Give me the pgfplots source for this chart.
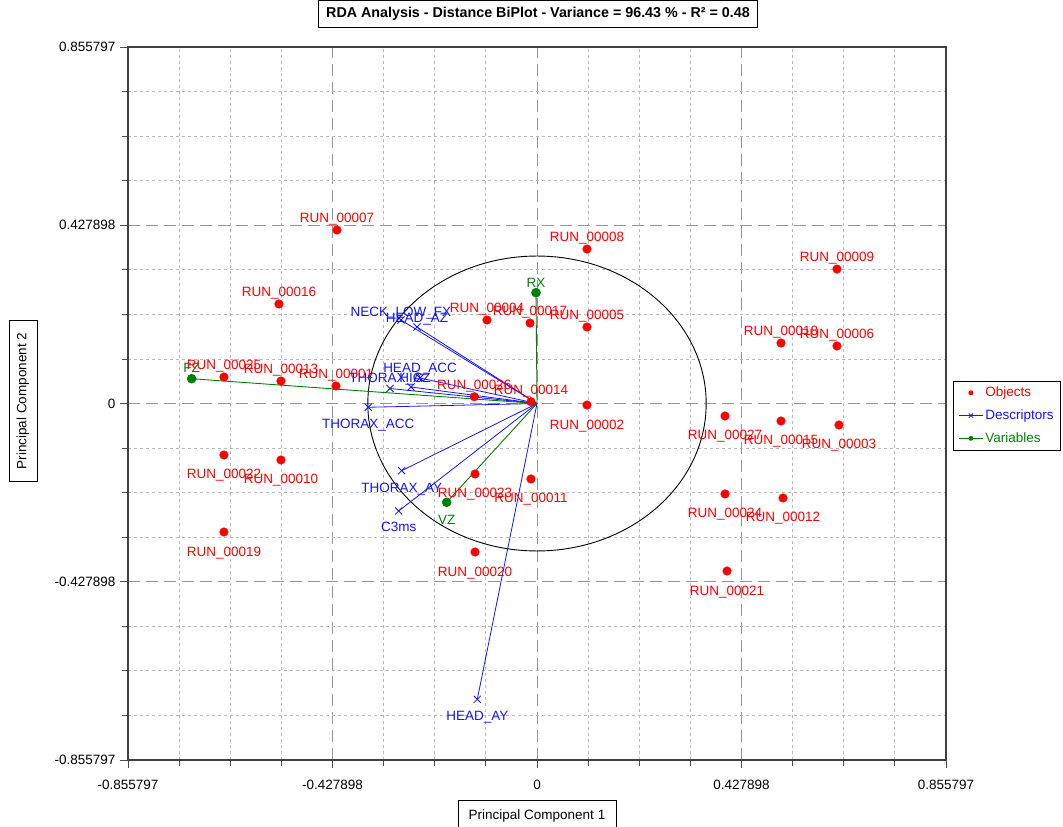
\documentclass[border=0pt]{standalone}
\usepackage{pgfplots}
\pgfplotsset{compat=1.18}
\usepackage{fontspec}
\setmainfont{Liberation Sans}
\definecolor{objred}{RGB}{255,0,0}
\definecolor{descblue}{RGB}{20,20,255}
\definecolor{vargreen}{RGB}{0,130,0}
\definecolor{majgrid}{RGB}{150,150,150}
\definecolor{mingrid}{RGB}{185,185,185}
\newcommand\lf{\fontsize{13.5}{16}\selectfont}
\begin{document}
\begin{tikzpicture}[x=1pt,y=1pt]
\useasboundingbox (0,0) rectangle (1063,827);
\begin{axis}[
  at={(128pt,67pt)}, anchor=south west, scale only axis,
  width=818pt, height=713pt,
  xmin=-0.855797, xmax=0.855797, ymin=-0.855797, ymax=0.855797,
  xtick={-0.855797,-0.427898,0,0.427898,0.855797},
  xticklabels={-0.855797,-0.427898,0,0.427898,0.855797},
  ytick={-0.855797,-0.427898,0,0.427898,0.855797},
  yticklabels={-0.855797,-0.427898,0,0.427898,0.855797},
  minor xtick={-0.748822,-0.641848,-0.534873,-0.320924,-0.213949,-0.106975,0.106975,0.213949,0.320924,0.534873,0.641848,0.748822},
  minor ytick={-0.748822,-0.641848,-0.534873,-0.320924,-0.213949,-0.106975,0.106975,0.213949,0.320924,0.534873,0.641848,0.748822},
  grid=both,
  major grid style={majgrid, dash pattern=on 12pt off 6pt, line width=0.9pt},
  minor grid style={mingrid, dash pattern=on 3pt off 3pt, line width=0.8pt},
  tick pos=left, tick align=outside,
  major tick length=8pt, minor tick length=6pt,
  tick style={black!70, line width=0.8pt},
  axis line style={black!75, line width=1.2pt},
  ticklabel style={font=\lf, text=black},
  xticklabel style={yshift=-9pt},
  yticklabel style={xshift=-1pt},
  title={RDA Analysis - Distance BiPlot - Variance = 96.43 \% - R² = 0.48},
  title style={draw=black, line width=0.9pt, font=\fontsize{14.3}{17}\selectfont\bfseries, at={(axis description cs:0.5012,1.0386)}, anchor=center, inner xsep=8pt, minimum height=27pt},
  xlabel={Principal Component 1},
  xlabel style={draw=black, line width=0.9pt, font=\lf, at={(axis description cs:0.5,-0.0561)}, anchor=north, minimum height=31pt, minimum width=158pt},
  ylabel={Principal Component 2},
  ylabel style={draw=black, line width=0.9pt, font=\lf, at={(axis description cs:-0.1284,0.5035)}, anchor=center, rotate=0, minimum height=28pt, minimum width=161pt},
  legend style={at={(axis description cs:1.0086,0.5320)}, anchor=north west, draw=black, line width=0.9pt, font=\lf, row sep=7.5pt, inner xsep=5pt, inner ysep=4pt},
  legend cell align=left,
  clip=false,
]
% Legend
\addlegendimage{only marks, mark=*, objred, mark size=2pt, legend image code/.code={\draw[mark repeat=2,mark phase=2] plot coordinates {(0pt,0pt) (12pt,0pt) (24pt,0pt)};}}
\addlegendentry{\textcolor{objred}{Objects}}
\addlegendimage{descblue, line width=0.8pt, mark=x, mark size=3pt, legend image code/.code={\draw[mark repeat=2,mark phase=2] plot coordinates {(0pt,0pt) (12pt,0pt) (24pt,0pt)};}}
\addlegendentry{\textcolor{descblue}{Descriptors}}
\addlegendimage{vargreen, line width=0.8pt, mark=*, mark size=2pt, legend image code/.code={\draw[mark repeat=2,mark phase=2] plot coordinates {(0pt,0pt) (12pt,0pt) (24pt,0pt)};}}
\addlegendentry{\textcolor{vargreen}{Variables}}

% Correlation circle
\draw[black, line width=0.9pt] (axis cs:0,0) ellipse [x radius=0.354, y radius=0.354];

% Objects, labels above
\addplot[forget plot, only marks, mark=*, objred, mark size=4.3pt,
  point meta=explicit symbolic, nodes near coords,
  every node near coord/.append style={anchor=base, yshift=7.5pt, text=objred, font=\lf, inner sep=0pt}]
coordinates {
(-0.4185,0.4165) [RUN\_00007]
(0.1046,0.3709) [RUN\_00008]
(0.6277,0.3228) [RUN\_00009]
(-0.5399,0.2389) [RUN\_00016]
(-0.1046,0.2004) [RUN\_00004]
(-0.0146,0.1932) [RUN\_00017]
(0.1046,0.1836) [RUN\_00005]
(0.5106,0.1452) [RUN\_00018]
(0.6277,0.1380) [RUN\_00006]
(-0.6550,0.0636) [RUN\_00025]
(-0.5357,0.0540) [RUN\_00013]
(-0.4206,0.0420) [RUN\_00001]
(-0.1312,0.0163) [RUN\_00026]
(-0.0126,0.0043) [RUN\_00014]
};
% Objects, labels below
\addplot[forget plot, only marks, mark=*, objred, mark size=4.3pt,
  point meta=explicit symbolic, nodes near coords,
  every node near coord/.append style={anchor=base, yshift=-24pt, text=objred, font=\lf, inner sep=0pt}]
coordinates {
(0.1046,-0.0036) [RUN\_00002]
(0.3934,-0.0300) [RUN\_00027]
(0.5106,-0.0420) [RUN\_00015]
(0.6319,-0.0516) [RUN\_00003]
(-0.6550,-0.1236) [RUN\_00022]
(-0.5357,-0.1356) [RUN\_00010]
(-0.1297,-0.1692) [RUN\_00023]
(-0.0126,-0.1812) [RUN\_00011]
(0.3934,-0.2172) [RUN\_00024]
(0.5148,-0.2268) [RUN\_00012]
(-0.6550,-0.3085) [RUN\_00019]
(-0.1297,-0.3565) [RUN\_00020]
(0.3976,-0.4021) [RUN\_00021]
};

% Descriptors
\pgfplotsset{descr/.style={forget plot, descblue, line width=0.8pt, mark=x, mark indices={2}, mark size=5pt, mark options={line width=0.8pt}}}
\addplot[descr] coordinates {(0,0) (-0.2846,0.2004)} node[pos=1, anchor=base, yshift=3.5pt, text=descblue, font=\lf, inner sep=0pt]{NECK\_LOW\_FX};
\addplot[descr] coordinates {(0,0) (-0.2511,0.1836)} node[pos=1, anchor=base, yshift=4.5pt, text=descblue, font=\lf, inner sep=0pt]{HEAD\_AZ};
\addplot[descr] coordinates {(0,0) (-0.2448,0.0612)} node[pos=1, anchor=base, yshift=6pt, text=descblue, font=\lf, inner sep=0pt]{HEAD\_ACC};
\addplot[descr] coordinates {(0,0) (-0.2637,0.0396)} node[pos=1, anchor=base, yshift=5pt, text=descblue, font=\lf, inner sep=0pt]{HIC};
\addplot[descr] coordinates {(0,0) (-0.3076,0.0360)} node[pos=1, anchor=base, yshift=6pt, text=descblue, font=\lf, inner sep=0pt]{THORAX\_AZ};
\addplot[descr] coordinates {(0,0) (-0.3530,-0.0090)} node[pos=1, anchor=base, yshift=-21pt, text=descblue, font=\lf, inner sep=0pt]{THORAX\_ACC};
\addplot[descr] coordinates {(0,0) (-0.2831,-0.1613)} node[pos=1, anchor=base, yshift=-22pt, text=descblue, font=\lf, inner sep=0pt]{THORAX\_AY};
\addplot[descr] coordinates {(0,0) (-0.2894,-0.2580)} node[pos=1, anchor=base, yshift=-21pt, text=descblue, font=\lf, inner sep=0pt]{C3ms};
\addplot[descr] coordinates {(0,0) (-0.1249,-0.7101)} node[pos=1, anchor=base, yshift=-21.5pt, text=descblue, font=\lf, inner sep=0pt]{HEAD\_AY};

% Variables
\pgfplotsset{vari/.style={forget plot, vargreen, line width=0.9pt, mark=*, mark indices={2}, mark size=4.3pt}}
\addplot[vari] coordinates {(0,0) (-0.7226,0.0595)} node[pos=1, anchor=base, yshift=6pt, text=vargreen, font=\lf, inner sep=0pt]{FZ};
\addplot[vari] coordinates {(0,0) (-0.0021,0.2660)} node[pos=1, anchor=base, yshift=5.5pt, text=vargreen, font=\lf, inner sep=0pt]{RX};
\addplot[vari] coordinates {(0,0) (-0.1890,-0.2372)} node[pos=1, anchor=base, yshift=-22pt, text=vargreen, font=\lf, inner sep=0pt]{VZ};
\end{axis}
\end{tikzpicture}
\end{document}
